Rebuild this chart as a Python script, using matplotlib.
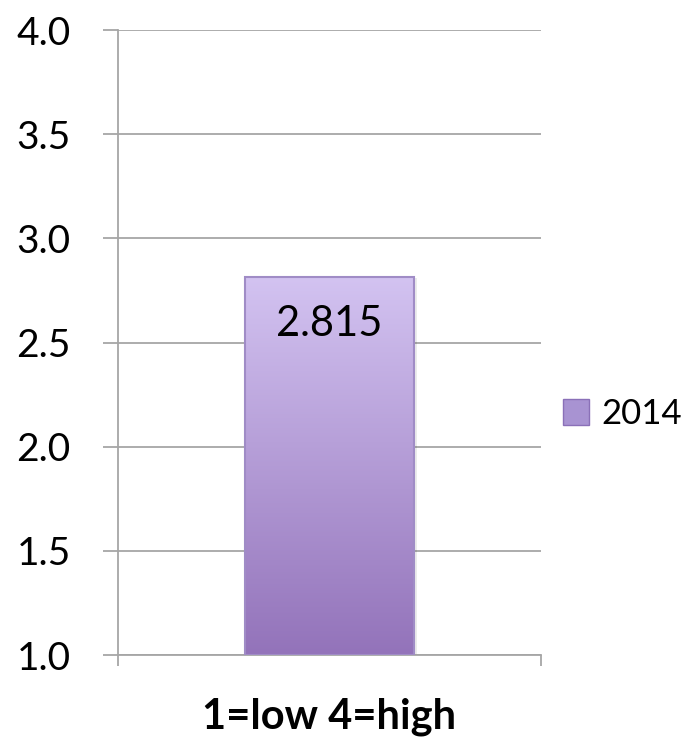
import numpy as np
import matplotlib.pyplot as plt
from matplotlib.colors import LinearSegmentedColormap
from matplotlib.patches import Rectangle

plt.rcParams['font.family'] = ['Lato', 'DejaVu Sans']

categories = ["1=low 4=high"]
series_name = "2014"
values = [2.815]
y_ticks = [1.0, 1.5, 2.0, 2.5, 3.0, 3.5, 4.0]

fig = plt.figure(figsize=(6.87, 7.39), dpi=100)
ax = fig.add_axes([118 / 687, 1 - 655 / 739, 423 / 687, 625 / 739])

grid_c = "#a6a6a6"
ax.set_xlim(0, 1)
ax.set_ylim(1.0, 4.0)
ax.set_yticks(y_ticks)
ax.set_yticklabels([f"{t:.1f}" for t in y_ticks], fontsize=28)
ax.yaxis.grid(True, color=grid_c, linewidth=1.3)
ax.set_axisbelow(True)
ax.set_xticks([0, 1])
ax.set_xticklabels(["", ""])
ax.tick_params(axis="y", length=11, width=1.3, color=grid_c, pad=23)
ax.tick_params(axis="x", length=8, width=1.3, color=grid_c)
for s in ["top", "right"]:
    ax.spines[s].set_visible(False)
for s in ["left", "bottom"]:
    ax.spines[s].set_color(grid_c)
    ax.spines[s].set_linewidth(1.3)

cmap = LinearSegmentedColormap.from_list("purp", ["#9373ba", "#d3c3f1"])
bar_w = 0.40
for i, v in enumerate(values):
    x0 = 0.5 + i - bar_w / 2
    # soft shadow
    ax.add_patch(Rectangle((x0 + 0.006, 1.0), bar_w, v - 1.0 - 0.005,
                           facecolor="#000000", alpha=0.08, edgecolor="none", zorder=2))
    bars = ax.bar([0.5 + i], [v - 1.0], bottom=1.0, width=bar_w,
                  facecolor="none", edgecolor="#a08cc6", linewidth=1.5, zorder=4,
                  label=series_name)
    grad = np.linspace(0, 1, 256).reshape(-1, 1)
    im = ax.imshow(grad, cmap=cmap, aspect="auto", origin="lower",
                   extent=[x0, x0 + bar_w, 1.0, v], zorder=3)
    im.set_clip_path(bars[0])
    ax.text(0.5 + i, v - 0.225, f"{v:.3f}", ha="center", va="center",
            fontsize=30, color="black", zorder=5)

ax.set_xlim(0, 1)
ax.set_ylim(1.0, 4.0)
fig.text(329.5 / 687, 1 - 728 / 739, categories[0], ha="center", va="baseline",
         fontsize=30, fontweight="bold")

handle = Rectangle((0, 0), 1, 1, facecolor="#a893d2", edgecolor="#8a70b8")
fig.legend([handle], [series_name], loc="center left",
           bbox_to_anchor=(563 / 687, 1 - 414 / 739), frameon=False,
           fontsize=25, handlelength=0.75, handleheight=0.75, handletextpad=0.35,
           borderaxespad=0, borderpad=0)

fig.savefig("out.png", dpi=100)
